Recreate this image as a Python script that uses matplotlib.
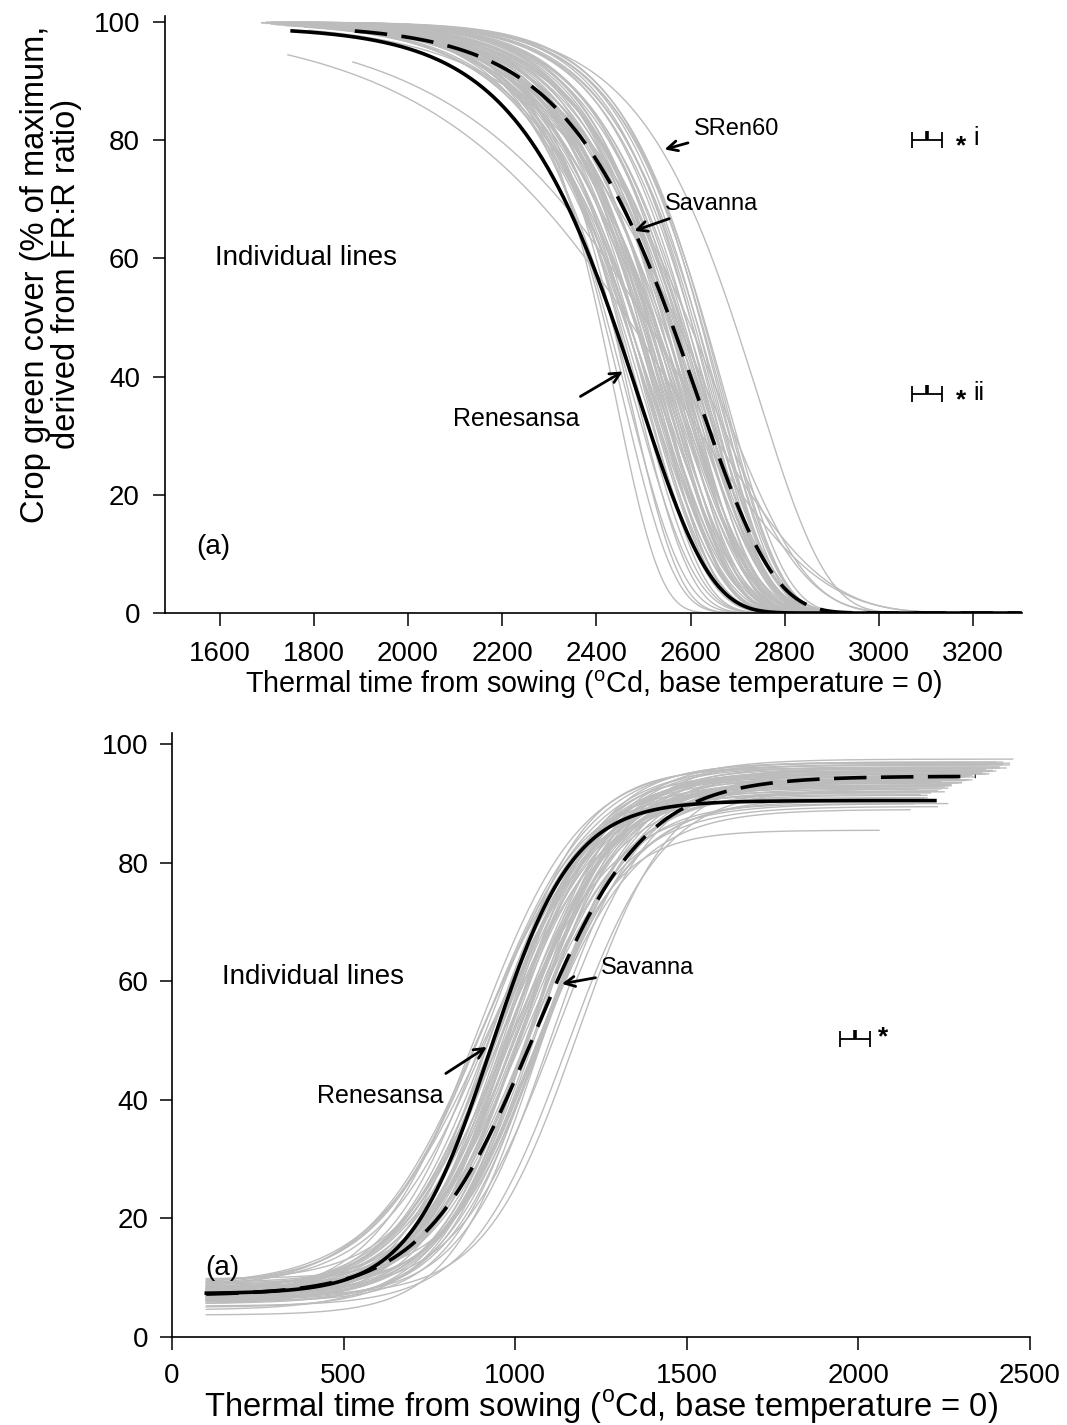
import numpy as np
import matplotlib
matplotlib.use("Agg")
import matplotlib.pyplot as plt

plt.rcParams['font.family'] = ['Liberation Sans', 'DejaVu Sans']
plt.rcParams['mathtext.fontset'] = 'custom'
plt.rcParams['mathtext.rm'] = 'Liberation Sans'

# ---- senescence (top panel): Gompertz fits, y = amp*exp(-exp((x-mid)/scale))
sen_start = [1700, 1720, 1690, 1740, 1710, 1760, 1730, 1750, 1780, 1700,
             1770, 1720, 1800, 1740, 1690, 1760, 1810, 1730, 1780, 1750,
             1820, 1700, 1770, 1740, 1790, 1720, 1760, 1830, 1750, 1710,
             1780, 1800, 1740, 1770, 1690, 1820, 1760, 1730, 1790, 1750,
             1710, 1780, 1840, 1720, 1760, 1800, 1740, 1770, 1700, 1810,
             1750, 1790, 1730, 1860, 1770, 1740, 1800, 1720, 1780, 1760,
             1830, 1750, 1790, 1710, 1770, 1820, 1740, 1800, 1760, 1780,
             1760, 1800, 1740, 1780, 1820, 1840, 1745, 1883, 1790, 1810]
sen_mid = [2440, 2455, 2465, 2470, 2478, 2485, 2492, 2500,
           2505, 2508, 2512, 2515, 2518, 2522, 2525, 2528, 2532, 2535,
           2538, 2542, 2545, 2548, 2552, 2555, 2558, 2562, 2565, 2568,
           2572, 2575, 2578, 2582, 2585, 2588, 2592, 2595, 2598, 2602,
           2605, 2608, 2612, 2615, 2618, 2622, 2625, 2628, 2632, 2510,
           2530, 2550, 2570, 2590, 2610, 2520, 2540, 2560, 2580, 2600,
           2620, 2535, 2555, 2575, 2595,
           2630, 2634, 2638, 2642, 2646, 2650, 2654, 2658, 2662, 2666,
           2670, 2674,
           2743, 2571, 2600, 2640, 2660]
sen_scale = [95, 110, 120, 105, 130, 115, 125, 135,
             120, 135, 150, 128, 142, 155, 125, 138, 148, 130,
             160, 122, 145, 135, 152, 128, 140, 158, 124, 146,
             132, 155, 120, 142, 150, 130, 138, 160, 126, 148,
             134, 152, 122, 140, 156, 128, 145, 135, 150, 140,
             118, 132, 155, 126, 144, 150, 128, 136, 158, 124,
             140, 146, 130, 152, 120,
             130, 122, 135, 118, 128, 125, 120, 130, 118, 124,
             122, 128,
             145, 289, 270, 200, 185]
sen_end = 3300

# named cultivars: start, mid, scale, amplitude
ren_sen = (1754, 2490, 150, 99.2)
sav_sen = (1887, 2615, 160, 99.5)

# ---- canopy expansion (bottom panel): y = base + (top-base)/(1+exp(-(x-mid)/scale))
exp_base = [6.5, 8.0, 7.5, 9.0, 6.0, 7.0, 8.5, 5.5, 7.2, 6.8,
            8.2, 7.8, 6.2, 9.5, 7.0, 8.0, 6.5, 7.5, 5.8, 8.8,
            7.0, 6.0, 8.5, 7.3, 6.7, 9.0, 5.0, 7.6, 6.3, 8.0,
            4.5, 7.0, 3.7, 6.0, 8.5, 7.8, 9.8, 6.6, 7.4, 5.2,
            6.9, 6.0, 8.7, 7.1, 6.4, 9.2, 7.7, 6.1, 8.3, 5.6,
            7.9, 6.8, 7.2, 8.4, 6.3, 7.5, 8.1, 6.7, 7.0, 5.9,
            8.6, 7.3, 6.5, 7.8, 6.9]
exp_top = [96.5, 95.0, 93.0, 97.0, 92.0, 94.0, 95.5, 91.5, 93.5, 96.0,
           94.5, 92.5, 95.0, 96.5, 90.0, 93.0, 94.0, 97.5, 92.0, 95.0,
           93.5, 96.0, 91.0, 94.5, 89.5, 95.5, 93.0, 92.0, 96.0, 94.0,
           91.0, 95.0, 90.0, 93.5, 97.0, 96.0, 94.0, 93.0, 95.5, 92.5,
           94.8, 85.5, 93.8, 95.2, 91.8, 96.8, 94.2, 92.8, 95.8, 90.5,
           93.2, 94.6, 95.6, 92.2, 96.2, 93.6, 94.9, 91.4, 95.1, 94.3,
           96.6, 92.6, 93.9, 95.4, 89.0]
exp_mid = [890, 900, 905, 912, 918, 925, 930, 935, 940, 945,
           950, 955, 960, 965, 970, 975, 980, 985, 990, 995,
           1000, 1005, 1010, 1015, 1020, 1025, 1030, 1035, 1040, 1045,
           1050, 1055, 1060, 1065, 1070, 1080, 1090, 1100, 1120, 1150,
           1180, 1045, 920, 945, 968, 992, 1012, 1028, 1048, 1062,
           958, 982, 1002, 1022, 1038, 938, 972, 1008, 1042, 1075,
           910, 952, 988, 1018, 1058]
exp_scale = [150, 165, 140, 155, 130, 145, 160, 135, 150, 125,
             140, 155, 130, 145, 160, 135, 120, 150, 140, 130,
             145, 155, 125, 140, 150, 135, 130, 145, 120, 140,
             150, 135, 125, 145, 130, 140, 135, 130, 145, 140,
             135, 120, 170, 150, 140, 130, 145, 135, 125, 140,
             150, 130, 140, 155, 135, 145, 125, 140, 130, 135,
             160, 140, 150, 130, 145]
exp_end = [2380, 2300, 2250, 2420, 2200, 2330, 2400, 2180, 2280, 2350,
           2310, 2240, 2370, 2440, 2160, 2260, 2320, 2450, 2210, 2360,
           2290, 2410, 2190, 2340, 2230, 2390, 2270, 2250, 2430, 2310,
           2200, 2380, 2260, 2300, 2400, 2350, 2280, 2220, 2300, 2170,
           2330, 2060, 2240, 2360, 2210, 2440, 2290, 2250, 2370, 2190,
           2270, 2320, 2390, 2230, 2410, 2300, 2340, 2200, 2360, 2280,
           2420, 2260, 2310, 2380, 2150]
exp_start = 100

# named cultivars: base, top, mid, scale, end
ren_exp = (7.3, 90.5, 930, 120, 2223)
sav_exp = (7.0, 94.6, 1054, 160, 2342)

GREY = '#bcbcbc'


def gompertz(x0, x1, mid, scale, amp=100.0):
    x = np.linspace(x0, x1, 400)
    return x, amp * np.exp(-np.exp((x - mid) / scale))


def logistic(x0, x1, base, top, mid, scale):
    x = np.linspace(x0, x1, 400)
    return x, base + (top - base) / (1 + np.exp(-(x - mid) / scale))


def lsd_bar(ax, xc, half, y, tick):
    ax.errorbar(xc, y, xerr=half, fmt='none', ecolor='k', elinewidth=1.3,
                capsize=6, capthick=1.3)
    ax.plot([xc, xc], [y, y + tick], color='k', lw=2.6, solid_capstyle='butt')


def style_axes(ax):
    for side in ('top', 'right'):
        ax.spines[side].set_visible(False)
    for side in ('left', 'bottom'):
        ax.spines[side].set_linewidth(1.2)
    ax.tick_params(direction='out', length=9, width=1.1, labelsize=20)


xlab = 'Thermal time from sowing ($^{\\mathregular{o}}$Cd, base temperature = 0)'
arrow = dict(arrowstyle='->', color='k', lw=2, mutation_scale=18)

fig = plt.figure(figsize=(10.67, 14.25), dpi=100)

# top panel
ax1 = fig.add_axes([0.1546, 0.5698, 0.8034, 0.4190])
for x0, m, s in zip(sen_start, sen_mid, sen_scale):
    x, y = gompertz(x0, sen_end, m, s)
    ax1.plot(x, y, color=GREY, lw=1.0)
x, y = gompertz(ren_sen[0], sen_end, ren_sen[1], ren_sen[2], ren_sen[3])
ax1.plot(x, y, color='k', lw=2.6)
x, y = gompertz(sav_sen[0], sen_end, sav_sen[1], sav_sen[2], sav_sen[3])
ax1.plot(x, y, color='k', lw=2.6, dashes=(9, 4))

ax1.set_xlim(1484, 3304)
ax1.set_ylim(0, 101)
ax1.set_xticks(np.arange(1600, 3201, 200))
ax1.set_yticks(np.arange(0, 101, 20))
style_axes(ax1)
ax1.tick_params(axis='x', pad=11)
ax1.tick_params(axis='y', pad=9)
ax1.set_xlabel(xlab, fontsize=20.7, labelpad=1)

ax1.text(1590, 60, 'Individual lines', fontsize=20, va='center')
ax1.text(1550, 11.2, '(a)', fontsize=20, va='center')
ax1.annotate('SRen60', xy=(2539, 78.3), xytext=(2606, 81.8), fontsize=17,
             va='center', ha='left', arrowprops=arrow)
ax1.annotate('Savanna', xy=(2475, 64.5), xytext=(2545, 69.2), fontsize=17,
             va='center', ha='left', arrowprops=arrow)
ax1.annotate('', xy=(2461, 41.1), xytext=(2361, 36.4), arrowprops=arrow)
ax1.text(2229, 32.8, 'Renesansa', fontsize=18, ha='center', va='center')

lsd_bar(ax1, 3102, 32, 80, 1.5)
lsd_bar(ax1, 3102, 32, 37, 1.5)
ax1.text(3174, 79.0, '*', fontsize=19, ha='center', va='center', fontweight='bold')
ax1.text(3200, 80.3, 'i', fontsize=18, ha='left', va='center')
ax1.text(3174, 36.0, '*', fontsize=19, ha='center', va='center', fontweight='bold')
ax1.text(3200, 37.3, 'ii', fontsize=18, ha='left', va='center')

fig.text(51 / 1067, 1 - 274 / 1425,
         'Crop green cover (% of maximum,\nderived from FR:R ratio)',
         rotation=90, fontsize=23.5, ha='center', va='center',
         multialignment='center', linespacing=1.0)

# bottom panel
ax2 = fig.add_axes([0.1612, 0.0618, 0.8041, 0.4238])
for b, t, m, s, e in zip(exp_base, exp_top, exp_mid, exp_scale, exp_end):
    x, y = logistic(exp_start, e, b, t, m, s)
    ax2.plot(x, y, color=GREY, lw=1.0)
x, y = logistic(exp_start, ren_exp[4], *ren_exp[:4])
ax2.plot(x, y, color='k', lw=2.6)
x, y = logistic(exp_start, sav_exp[4], *sav_exp[:4])
ax2.plot(x, y, color='k', lw=2.6, dashes=(9, 4))

ax2.set_xlim(0, 2500)
ax2.set_ylim(0, 101.9)
ax2.set_xticks(np.arange(0, 2501, 500))
ax2.set_yticks(np.arange(0, 101, 20))
style_axes(ax2)
ax2.tick_params(axis='x', pad=10)
ax2.tick_params(axis='y', pad=8)
ax2.set_xlabel(xlab, fontsize=23.6, labelpad=-1)

ax2.text(145, 60.7, 'Individual lines', fontsize=20, va='center')
ax2.text(96, 11.6, '(a)', fontsize=20, va='center')
ax2.annotate('Savanna', xy=(1128, 59.5), xytext=(1250, 62.2), fontsize=17,
             va='center', ha='left', arrowprops=arrow)
ax2.annotate('', xy=(924, 49.2), xytext=(791, 44.2), arrowprops=arrow)
ax2.text(608, 40.6, 'Renesansa', fontsize=18, ha='center', va='center')

lsd_bar(ax2, 1990, 44, 50.3, 1.5)
ax2.text(2072, 50.6, '*', fontsize=19, ha='center', va='center', fontweight='bold')

fig.savefig('out.png', dpi=100)
